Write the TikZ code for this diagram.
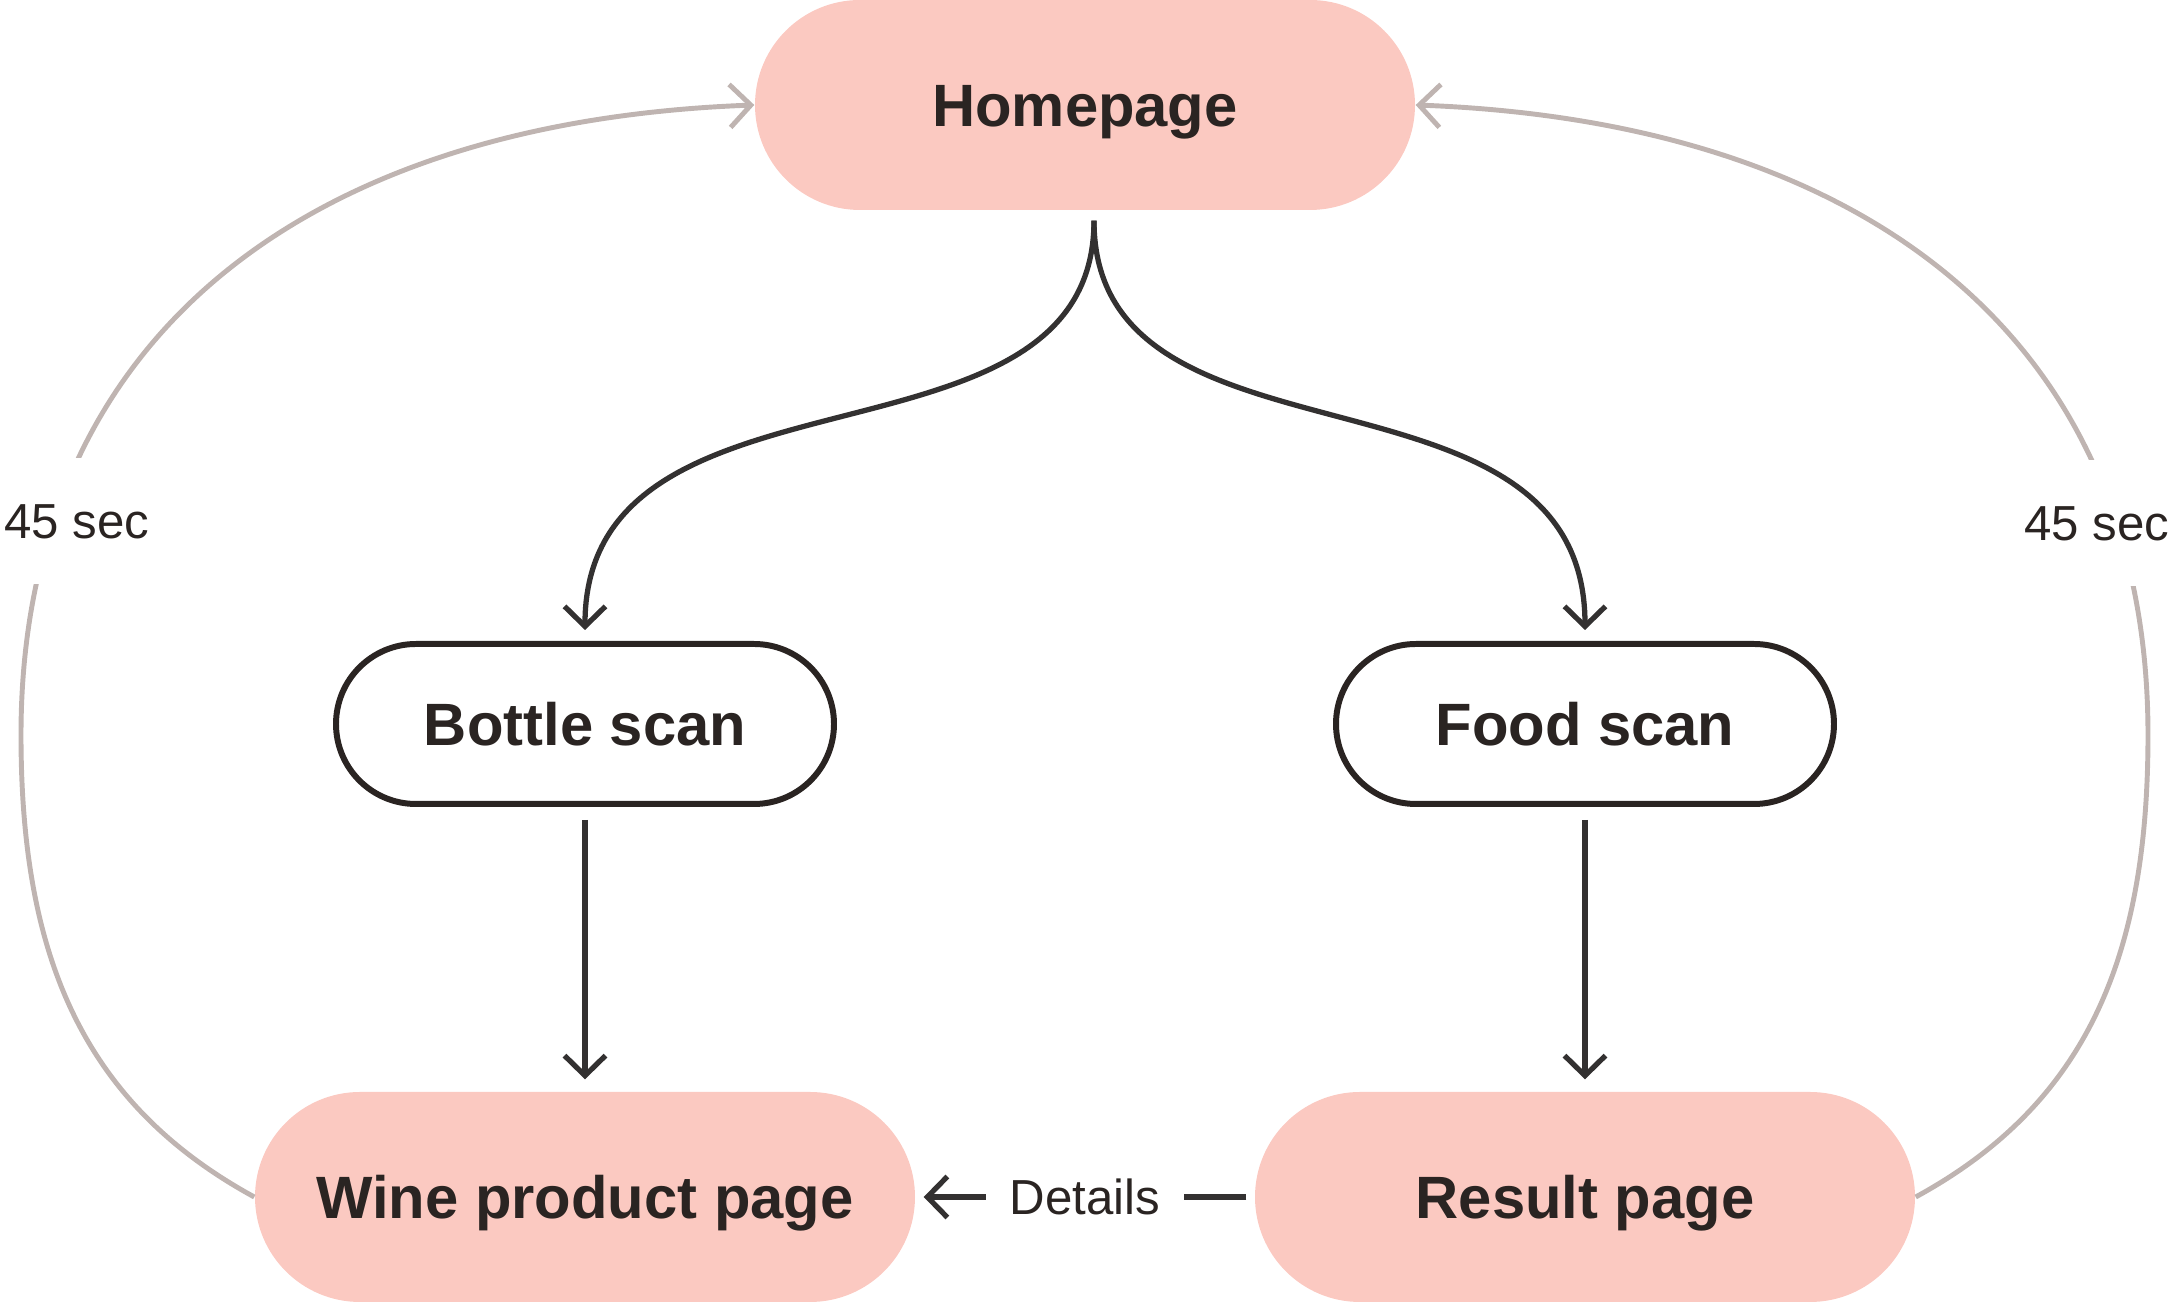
\documentclass[tikz,border=0pt]{standalone}
\usepackage{fontspec}
\setmainfont{Liberation Sans}
\usetikzlibrary{positioning,arrows.meta}
\definecolor{pagePink}{HTML}{FBC9C1}
\definecolor{inkDark}{HTML}{2A2422}
\definecolor{lineDark}{HTML}{333131}
\definecolor{lineGrey}{HTML}{BFB4B1}

\tikzset{
  page/.style={fill=pagePink, text=inkDark, font=\fontsize{17}{20}\selectfont\bfseries,
    text height=0.44cm, text depth=0pt,
    minimum width=6.6cm, minimum height=2.1cm, rounded corners=1.05cm},
  scanbox/.style={draw=inkDark, line width=1.7pt, fill=white, text=inkDark,
    font=\fontsize{17}{20}\selectfont\bfseries, text height=0.44cm, text depth=0pt,
    minimum width=4.98cm, minimum height=1.6cm, rounded corners=0.8cm},
  flow/.style={draw=lineDark, line width=1.5pt, -{Straight Barb[length=2mm,width=4.1mm]}},
  back/.style={draw=lineGrey, line width=1.4pt, -{Straight Barb[length=2.1mm,width=4.3mm]}},
  note/.style={fill=white, text=inkDark, font=\fontsize{14}{16}\selectfont}
}

\begin{document}
\begin{tikzpicture}
        \useasboundingbox (0,0) rectangle (21.75,13.02);
        % pages and scans
        \node[page] (home) at (10.85,11.97) {Homepage};
        \node[scanbox] (bottle) at (5.85,5.78) {Bottle scan};
        \node[scanbox] (food) at (15.85,5.78) {Food scan};
        \node[page] (wine) at (5.85,1.05) {Wine product page};
        \node[page] (result) at (15.85,1.05) {Result page};
        % main flow
        \draw[flow, shorten <=0.1cm, shorten >=0.11cm] ([xshift=0.09cm]home.south)
          .. controls +(0,-2.75) and +(0,2.96) .. (bottle.north);
        \draw[flow, shorten <=0.1cm, shorten >=0.11cm] ([xshift=0.09cm]home.south)
          .. controls +(0,-2.75) and +(0,2.96) .. (food.north);
        \draw[flow, shorten <=0.13cm, shorten >=0.12cm] (bottle.south) -- (wine.north);
        \draw[flow, shorten <=0.13cm, shorten >=0.12cm] (food.south) -- (result.north);
        \draw[flow, shorten <=0.08cm, shorten >=0.08cm] (result.west)
          -- node[note, inner xsep=0.24cm] (details) {Details} (wine.east);
        % timeouts back to the homepage
        \draw[back] (wine.west) .. controls (0.8,2.0) and (0.21,3.5) .. (0.21,5.67)
          .. controls (0.21,9.6) and (3.0,11.8) .. (home.west);
        \draw[back] (result.east) .. controls (20.9,2.0) and (21.48,3.5) .. (21.48,5.67)
          .. controls (21.48,9.6) and (18.7,11.8) .. (home.east);
        \node[note, text height=0.36cm, text depth=0pt, inner ysep=0.45cm, inner xsep=0.05cm]
          (lsec) at (0.77,7.81) {45 sec};
        \node[note, text height=0.36cm, text depth=0pt, inner ysep=0.45cm, inner xsep=0.05cm]
          (rsec) at (20.97,7.79) {45 sec};
      \end{tikzpicture}
\end{document}
